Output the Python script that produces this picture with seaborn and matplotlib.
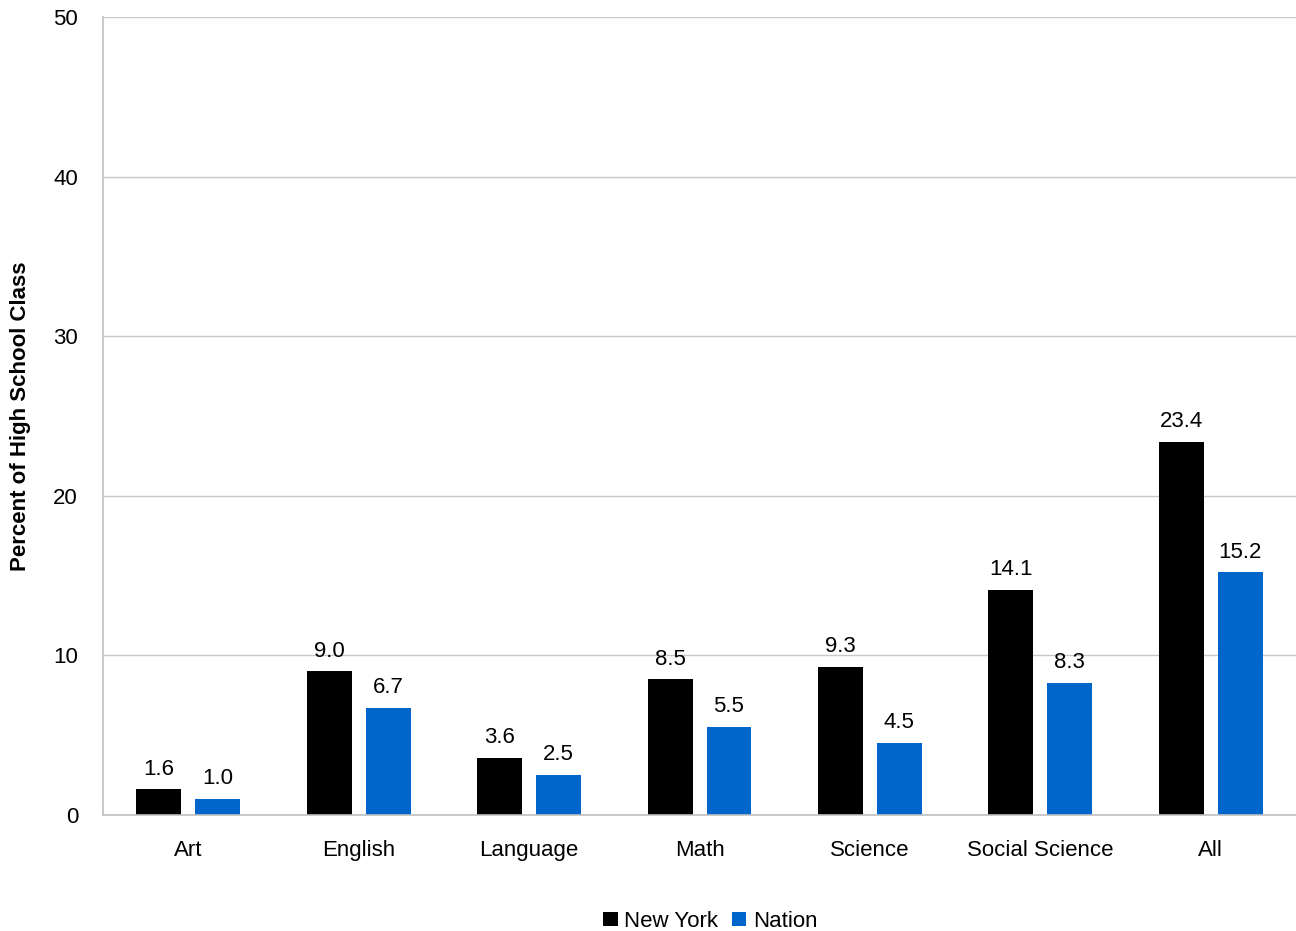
import matplotlib
matplotlib.use("Agg")
import matplotlib.pyplot as plt
import seaborn as sns
import pandas as pd
from matplotlib.patches import Patch

categories = ["Art", "English", "Language", "Math", "Science", "Social Science", "All"]
new_york = [1.6, 9.0, 3.6, 8.5, 9.3, 14.1, 23.4]
nation = [1.0, 6.7, 2.5, 5.5, 4.5, 8.3, 15.2]
series = ["New York", "Nation"]
colors = ["#000000", "#0066CC"]

df = pd.DataFrame({
    "Category": categories * 2,
    "Value": new_york + nation,
    "Series": [series[0]] * len(categories) + [series[1]] * len(categories),
})

sns.set_theme(style="white")
plt.rcParams["font.family"] = ["Liberation Sans", "DejaVu Sans"]
plt.rcParams["text.color"] = "#000000"

fig = plt.figure(figsize=(12.96, 9.31), dpi=100)
ax = fig.add_axes([0.0795, 0.1246, 0.9205, 0.8571])

sns.barplot(data=df, x="Category", y="Value", hue="Series", order=categories,
            hue_order=series, palette=colors, width=0.692, gap=0.237,
            saturation=1, ax=ax, legend=False, errorbar=None, linewidth=0)

for cont in ax.containers:
    ax.bar_label(cont, fmt="%.1f", padding=7, fontsize=16, color="#000000")

ax.set_ylim(0, 50)
ax.set_xlim(-0.5, 6.5)
ax.set_yticks([0, 10, 20, 30, 40, 50])
ax.yaxis.grid(True, color="#C8C8C8", linewidth=1)
ax.set_axisbelow(True)
for s in ["top", "right"]:
    ax.spines[s].set_visible(False)
for s in ["left", "bottom"]:
    ax.spines[s].set_color("#C0C0C0")
    ax.spines[s].set_linewidth(1.2)
ax.tick_params(axis="both", length=0, labelsize=16, colors="#000000")
ax.tick_params(axis="x", pad=18)
ax.tick_params(axis="y", pad=18)
ax.set_xlabel("")
ax.set_ylabel("Percent of High School Class", fontsize=16, fontweight="bold",
              labelpad=16, color="#000000")

handles = [Patch(facecolor=c, edgecolor="none") for c in colors]
fig.legend(handles, series, loc="center", bbox_to_anchor=(0.548, 0.0105), ncol=2,
           frameon=False, fontsize=16, handlelength=0.65, handleheight=0.65,
           handletextpad=0.3, columnspacing=0.6)

fig.savefig("out.png", dpi=100)
